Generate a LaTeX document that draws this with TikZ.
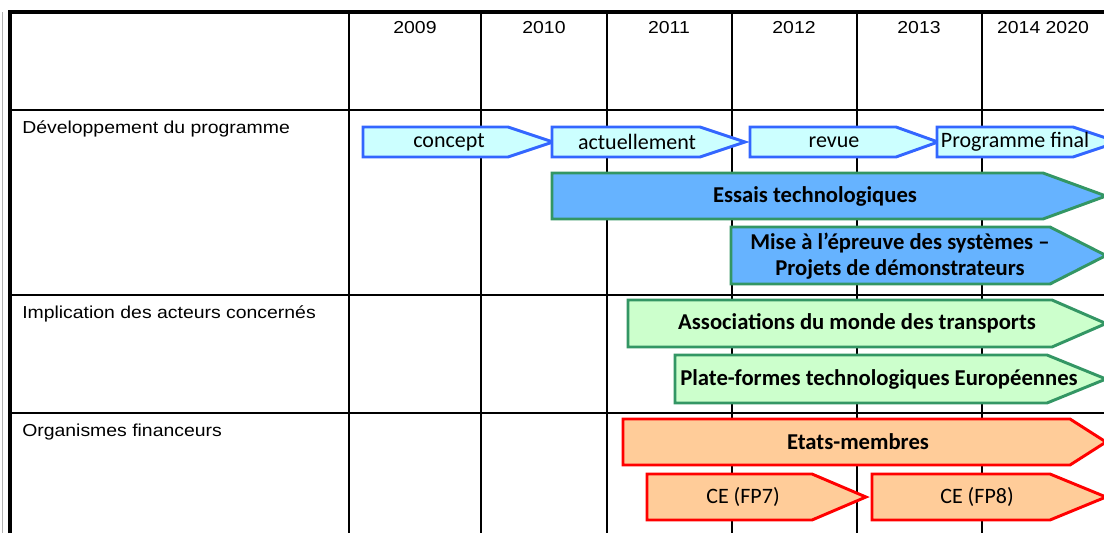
\documentclass[tikz,border=0pt]{standalone}
\usepackage{fontspec}
\setmainfont[FakeStretch=1.12]{Liberation Sans}
\newfontfamily\barfont{Carlito}
\definecolor{planline}{RGB}{51,102,255}
\definecolor{planfill}{RGB}{204,255,255}
\definecolor{testfill}{RGB}{102,179,255}
\definecolor{greenline}{RGB}{51,150,100}
\definecolor{actorfill}{RGB}{204,255,204}
\definecolor{fundline}{RGB}{255,0,0}
\definecolor{fundfill}{RGB}{255,204,153}

\begin{document}
\begin{tikzpicture}[x=0.75pt, y=-0.75pt,
    gridline/.style={line width=1.6pt},
    frameline/.style={line width=2.6pt},
    yeartext/.style={inner sep=0pt, font=\fontsize{13}{15}\selectfont},
    rowtext/.style={inner sep=0pt, anchor=base west, font=\fontsize{13}{15}\selectfont},
    smalltext/.style={inner sep=0pt, font=\barfont\fontsize{16.5}{19}\selectfont},
    bigtext/.style={inner sep=0pt, align=center, font=\barfont\bfseries\fontsize{17}{19.5}\selectfont},
    planbar/.style={draw=planline, fill=planfill, line width=2.2pt},
    testbar/.style={draw=greenline, fill=testfill, line width=2.2pt},
    actorbar/.style={draw=greenline, fill=actorfill, line width=2.2pt},
    fundbar/.style={draw=fundline, fill=fundfill, line width=2.2pt}]

    \useasboundingbox (0,0) rectangle (1104,533);
    \clip (0,0) rectangle (1104,533);

    % table
    \draw[gray!60, line width=0.6pt] (2,12) -- (2,533);
    \foreach \x in {349,481,607,732,857,982}
        \draw[gridline] (\x,12) -- (\x,533);
    \foreach \y in {110,295,413}
        \draw[gridline] (10,\y) -- (1104,\y);
    \draw[frameline] (10,533) -- (10,12) -- (1104,12);

    \node[yeartext] (y2009) at (415,28) {2009};
    \node[yeartext] (y2010) at (544,28) {2010};
    \node[yeartext] (y2011) at (669,28) {2011};
    \node[yeartext] (y2012) at (794,28) {2012};
    \node[yeartext] (y2013) at (919,28) {2013};
    \node[yeartext] (y2014) at (1043,28) {2014 2020};

    \node[rowtext] (dev) at (22,133) {Développement du programme};
    \node[rowtext] (impl) at (22,318) {Implication des acteurs concernés};
    \node[rowtext] (fin) at (22,436) {Organismes financeurs};

    % programme
    \draw[planbar] (363,127) -- (508,127) -- (553,142) -- (508,157) -- (363,157) -- cycle;
    \draw[planbar] (552,127) -- (700,127) -- (745,142) -- (700,157) -- (552,157) -- cycle;
    \draw[planbar] (750,127) -- (896,127) -- (938,142) -- (896,157) -- (750,157) -- cycle;
    \draw[planbar] (937,127) -- (1073,127) -- (1118,142) -- (1073,157) -- (937,157) -- cycle;
    \node[smalltext] (concept) at (449,142) {concept};
    \node[smalltext] (now) at (637,142) {actuellement};
    \node[smalltext] (review) at (834,142) {revue};
    \node[smalltext] (final) at (1015,142) {Programme final};

    \draw[testbar] (552,173) -- (1043,173) -- (1106,196) -- (1043,219) -- (552,219) -- cycle;
    \draw[testbar] (731,227) -- (1050,227) -- (1106,255.5) -- (1050,284) -- (731,284) -- cycle;
    \node[bigtext] (tests) at (815,196) {Essais technologiques};
    \node[bigtext] (demo) at (900,256) {Mise à l’épreuve des systèmes –\\Projets de démonstrateurs};

    % acteurs
    \draw[actorbar] (628,300) -- (1052,300) -- (1106,323.5) -- (1052,347) -- (628,347) -- cycle;
    \draw[actorbar] (675,355) -- (1047,355) -- (1106,379) -- (1047,403) -- (675,403) -- cycle;
    \node[bigtext] (assoc) at (857,323) {Associations du monde des transports};
    \node[bigtext] (platf) at (879,379) {Plate-formes technologiques Européennes};

    % financeurs
    \draw[fundbar] (623,419) -- (1070,419) -- (1106,442) -- (1070,465) -- (623,465) -- cycle;
    \draw[fundbar] (647,474) -- (812,474) -- (866,497) -- (812,520) -- (647,520) -- cycle;
    \draw[fundbar] (872,474) -- (1050,474) -- (1106,497) -- (1050,520) -- (872,520) -- cycle;
    \node[bigtext] (states) at (858,442) {Etats-membres};
    \node[smalltext] (fp7) at (743,497) {CE (FP7)};
    \node[smalltext] (fp8) at (977,497) {CE (FP8)};

\end{tikzpicture}
\end{document}
